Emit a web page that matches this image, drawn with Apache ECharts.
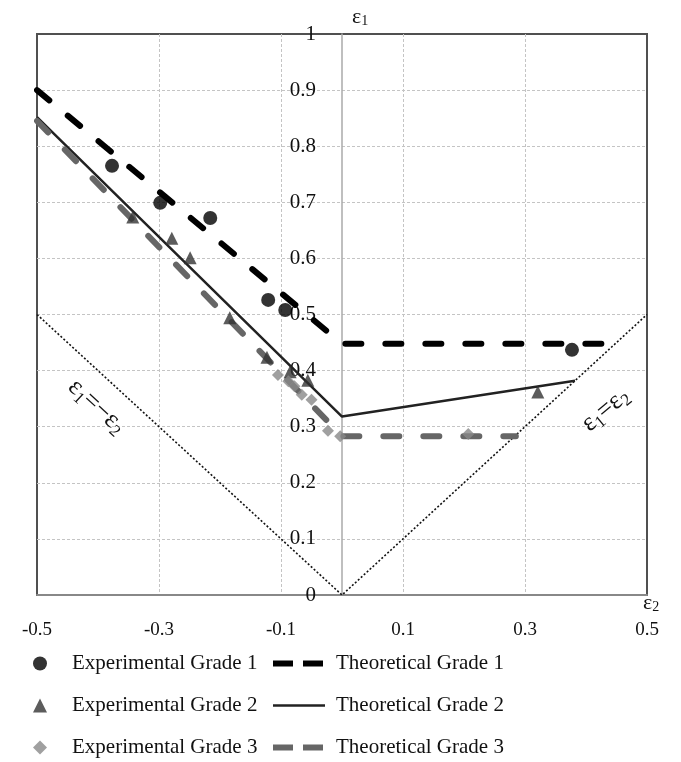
<!DOCTYPE html>
<html>
<head>
<meta charset="utf-8">
<script src="https://cdn.jsdelivr.net/npm/echarts@6/dist/echarts.min.js"></script>
<style>
html,body{margin:0;padding:0;background:#fff;}
#chart{width:681px;height:762px;}
</style>
</head>
<body>
<div id="chart"></div>
<script>
// ---- data ----
const expGrade1 = [[-0.377,0.765],[-0.298,0.699],[-0.216,0.672],[-0.121,0.526],[-0.093,0.508],[0.377,0.437]];
const expGrade2 = [[-0.343,0.674],[-0.279,0.636],[-0.249,0.601],[-0.184,0.494],[-0.123,0.424],[-0.085,0.398],[-0.056,0.383],[0.321,0.362]];
const expGrade3 = [[-0.105,0.392],[-0.088,0.381],[-0.078,0.372],[-0.066,0.357],[-0.050,0.348],[-0.023,0.293],[-0.003,0.283],[0.207,0.287]];
const theoGrade1 = [[-0.5,0.900],[0,0.448],[0.448,0.448]];
const theoGrade2 = [[-0.5,0.852],[0,0.318],[0.382,0.382]];
const theoGrade3 = [[-0.5,0.845],[0,0.283],[0.285,0.283]];
const limitLines = [[-0.5,0.5],[0,0],[0.5,0.5]];
const limitLabelPos = [[-0.402,0.336],[0.432,0.33]];
const yAxisCrossX = 0;
const seriesNames = ['Experimental Grade 1','Experimental Grade 2','Experimental Grade 3','Theoretical Grade 1','Theoretical Grade 2','Theoretical Grade 3'];

const FONT = 'Liberation Serif';
const GRID = {left:37,right:34,top:34,bottom:167};
const chart = echarts.init(document.getElementById('chart'), null, {renderer:'canvas'});
const fmt = v => String(+(+v).toFixed(1));
const richSub = {
  a:{fontFamily:FONT,fontSize:26,color:'#111',lineHeight:30},
  b:{fontFamily:FONT,fontSize:17,color:'#111',verticalAlign:'bottom',lineHeight:30}
};

const option = {
  animation:false,
  backgroundColor:'#fff',
  grid:{left:GRID.left,right:GRID.right,top:GRID.top,bottom:GRID.bottom,containLabel:false,outerBoundsMode:'none',
        show:true,borderColor:'#505050',borderWidth:2,backgroundColor:'transparent'},
  xAxis:{
    type:'value',min:-0.5,max:0.5,interval:0.2,
    name:'{a|ε}{b|2}',nameLocation:'end',nameGap:-4,
    nameTextStyle:{rich:{a:{fontFamily:FONT,fontSize:22,color:'#111'},b:{fontFamily:FONT,fontSize:14,color:'#111',verticalAlign:'bottom'}},padding:[16,0,0,0]},
    axisLine:{show:true,onZero:false,lineStyle:{color:'#888',width:2}},
    axisTick:{show:false},
    axisLabel:{formatter:fmt,fontFamily:FONT,fontSize:19,color:'#111',margin:26},
    splitLine:{show:true,showMinLine:false,showMaxLine:false,lineStyle:{color:'#c4c4c4',type:[3,2],width:1}}
  },
  yAxis:{
    type:'value',min:0,max:1,interval:0.1,position:'left',offset:0,
    name:'{a|ε}{b|1}',nameLocation:'end',nameGap:6,
    nameTextStyle:{align:'left',padding:[0,0,0,10],rich:{a:{fontFamily:FONT,fontSize:22,color:'#111'},b:{fontFamily:FONT,fontSize:14,color:'#111',verticalAlign:'bottom'}}},
    axisLine:{show:true,onZero:false,lineStyle:{color:'#aaa',width:1.5}},
    axisTick:{show:false},
    axisLabel:{formatter:fmt,fontFamily:FONT,fontSize:21,color:'#111',margin:26},
    splitLine:{show:true,showMinLine:false,showMaxLine:false,lineStyle:{color:'#c4c4c4',type:[3,2],width:1}}
  },
  legend:[
    {data:seriesNames.slice(0,3),orient:'vertical',left:33,top:653,height:120,padding:0,itemWidth:14,itemHeight:14,itemGap:21,
     textStyle:{fontFamily:FONT,fontSize:21,color:'#111',lineHeight:21,padding:[0,0,0,20]}},
    {data:[
       {name:seriesNames[3],lineStyle:{width:6,type:[20,10],cap:'butt',color:'#000'}},
       {name:seriesNames[4],lineStyle:{width:2.5,type:'solid',color:'#222'}},
       {name:seriesNames[5],lineStyle:{width:6,type:[20,10],cap:'butt',color:'#666'}}
     ],orient:'vertical',left:270,top:653,height:120,padding:0,itemWidth:52,itemHeight:14,itemGap:21,
     itemStyle:{opacity:0},
     textStyle:{fontFamily:FONT,fontSize:21,color:'#111',lineHeight:21,padding:[0,0,0,6]}}
  ],
  series:[
    {name:'limit',type:'line',data:limitLines,symbol:'none',silent:true,z:1,
     lineStyle:{color:'#111',width:1.6,type:[2,2]},
     markPoint:{symbol:'circle',symbolSize:0,silent:true,
       data:[
         {coord:limitLabelPos[0],label:{show:true,position:'inside',rotate:-42.6,formatter:'{a|ε}{b|1}{a|=−ε}{b|2}',rich:richSub}},
         {coord:limitLabelPos[1],label:{show:true,position:'inside',rotate:40,formatter:'{a|ε}{b|1}{a|=ε}{b|2}',rich:richSub}}
       ]}},
    {name:seriesNames[3],type:'line',data:theoGrade1,symbol:'none',z:3,
     itemStyle:{color:'#000'},lineStyle:{color:'#000',width:6,type:[16,24],cap:'round'}},
    {name:seriesNames[4],type:'line',data:theoGrade2,symbol:'none',z:3,
     itemStyle:{color:'#222'},lineStyle:{color:'#222',width:2.5,type:'solid'}},
    {name:seriesNames[5],type:'line',data:theoGrade3,symbol:'none',z:3,
     itemStyle:{color:'#666'},lineStyle:{color:'#666',width:6,type:[16,24],cap:'round'}},
    {name:seriesNames[0],type:'scatter',data:expGrade1,symbol:'circle',symbolSize:14,z:4,itemStyle:{color:'#000'}},
    {name:seriesNames[1],type:'scatter',data:expGrade2,symbol:'triangle',symbolSize:13,z:4,itemStyle:{color:'#333'}},
    {name:seriesNames[2],type:'scatter',data:expGrade3,symbol:'diamond',symbolSize:12,z:4,itemStyle:{color:'#888'}}
  ]
};
chart.setOption(option);
// move the vertical axis (line + labels) to x = 0, using the library's own scale
const crossPx = chart.convertToPixel({xAxisIndex:0}, yAxisCrossX);
chart.setOption({yAxis:{offset:-(crossPx - GRID.left)}});
</script>
</body>
</html>
